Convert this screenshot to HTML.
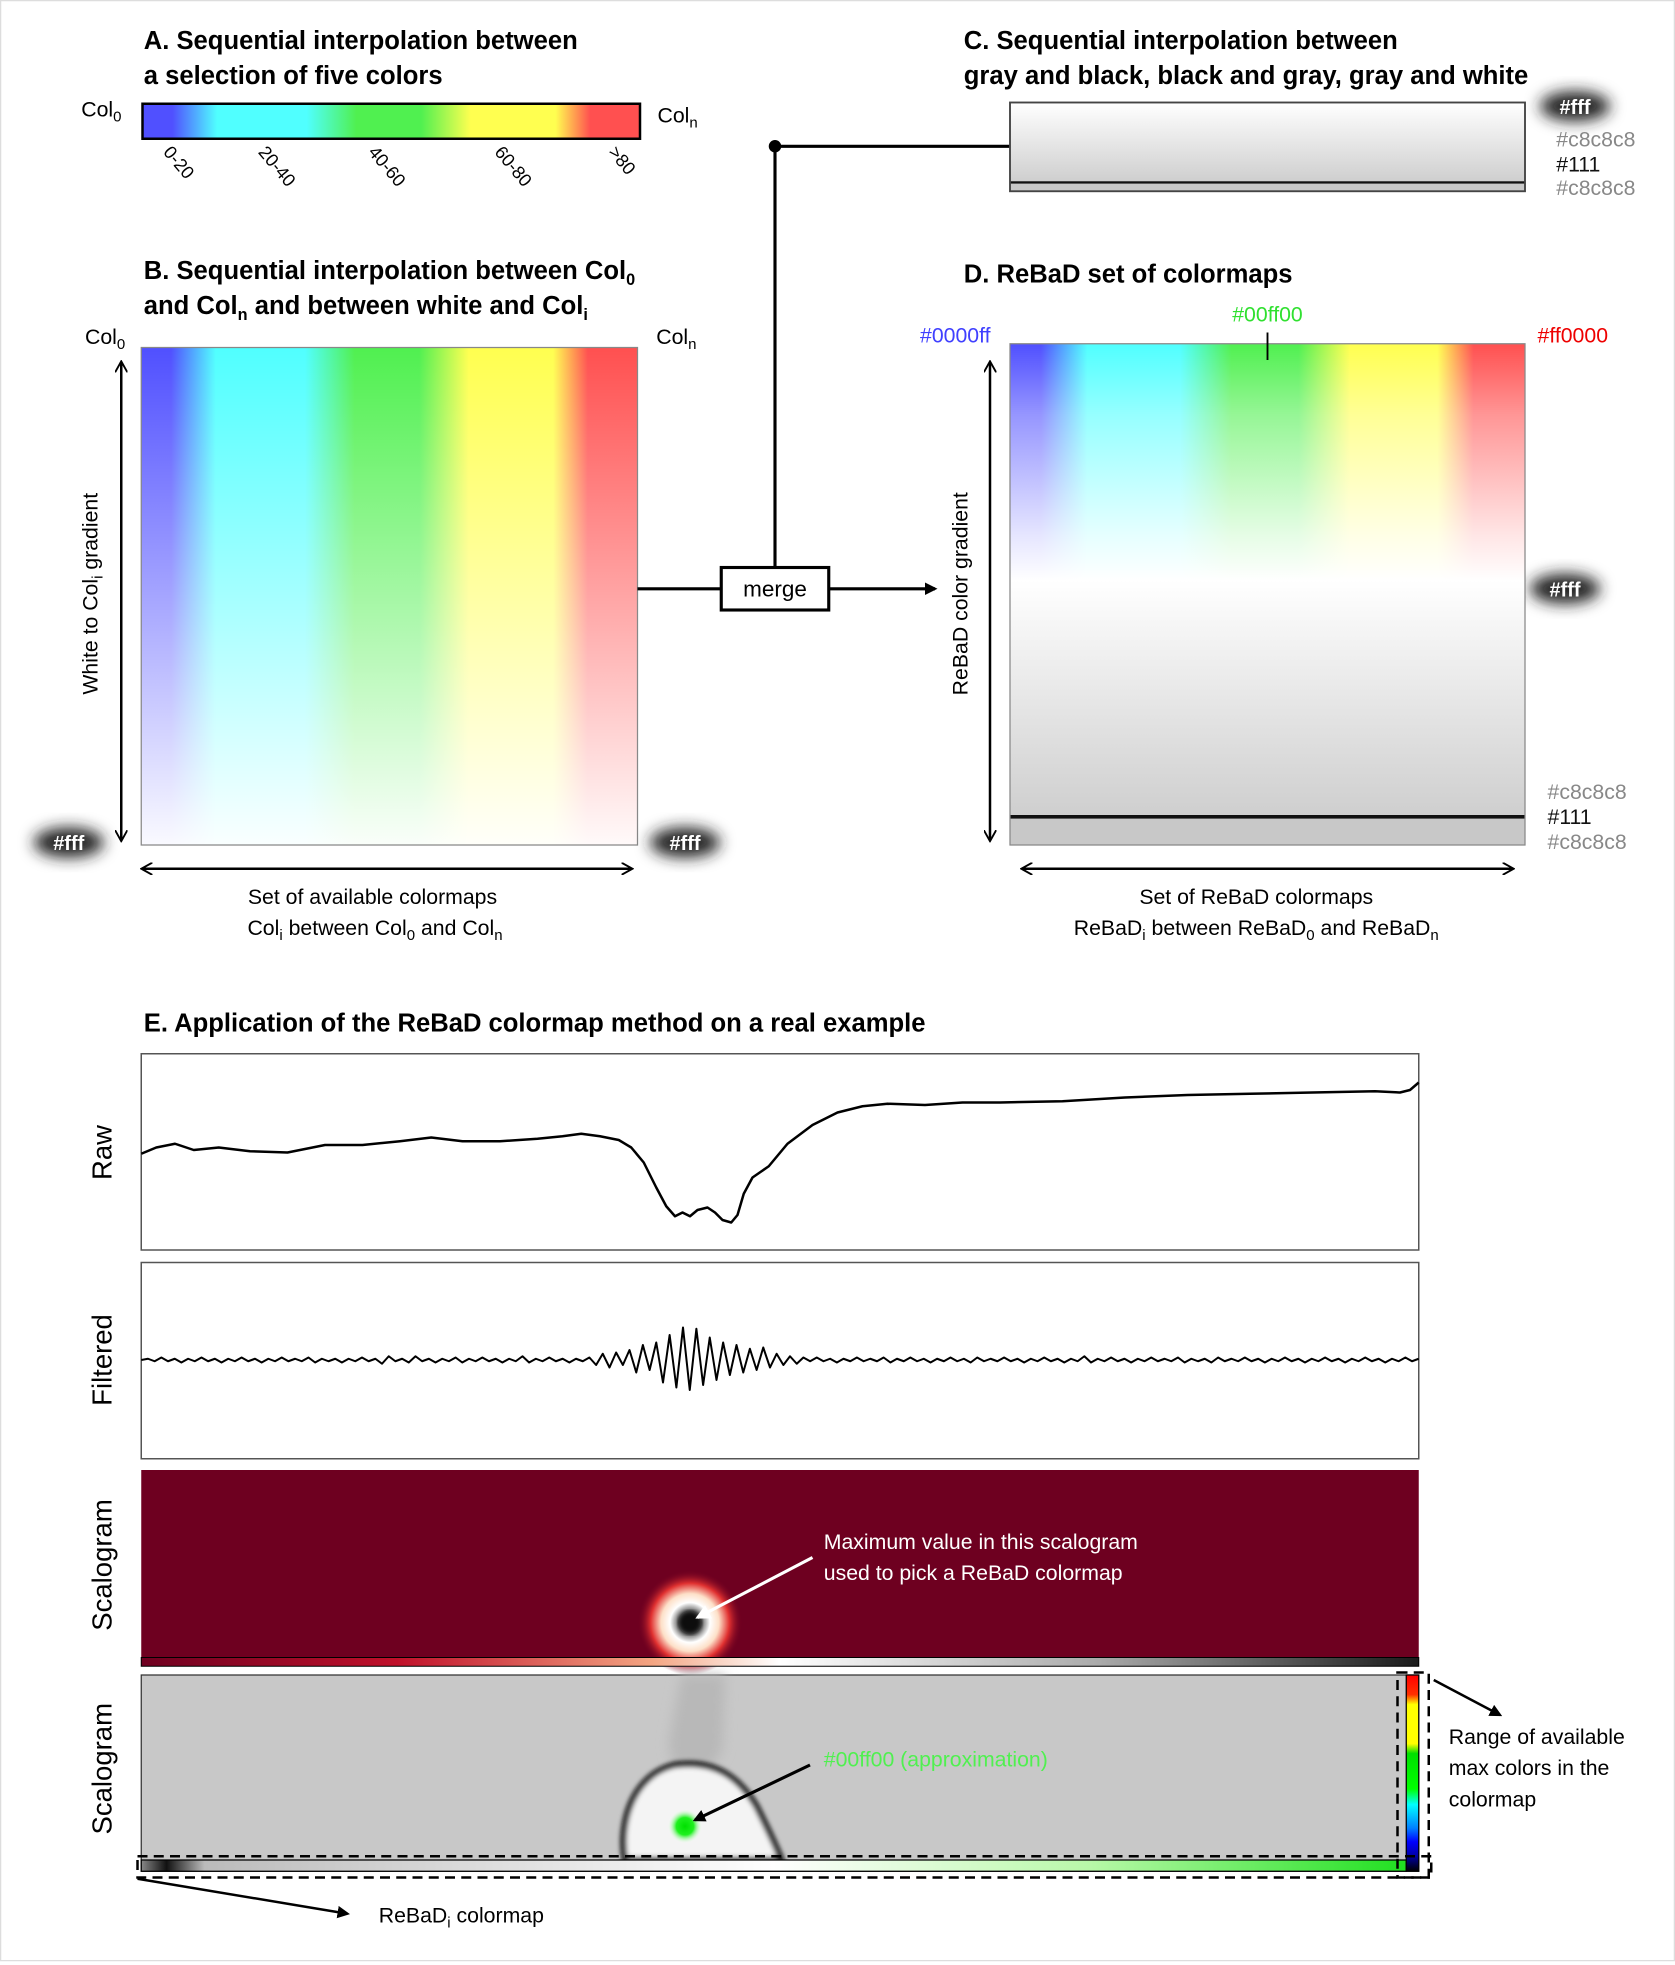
<!DOCTYPE html>
<html><head><meta charset="utf-8"><style>
html,body{margin:0;padding:0;background:#fff;}
svg{display:block;font-family:"Liberation Sans",sans-serif;}
</style></head><body>
<svg id="fig" width="1675" height="1965" viewBox="0 0 1340 1572" xmlns="http://www.w3.org/2000/svg">
<defs>
<linearGradient id="rainbow" x1="0" x2="1" y1="0" y2="0">
<stop offset="0" stop-color="#5050ff"/><stop offset="0.06" stop-color="#5050ff"/>
<stop offset="0.15" stop-color="#50ffff"/><stop offset="0.33" stop-color="#50ffff"/>
<stop offset="0.43" stop-color="#50f050"/><stop offset="0.56" stop-color="#50f050"/>
<stop offset="0.66" stop-color="#ffff50"/><stop offset="0.83" stop-color="#ffff50"/>
<stop offset="0.9" stop-color="#ff5050"/><stop offset="1" stop-color="#ff5050"/>
</linearGradient>
<linearGradient id="fadeB" x1="0" x2="0" y1="0" y2="1">
<stop offset="0" stop-color="#fff" stop-opacity="0"/><stop offset="1" stop-color="#fff" stop-opacity="0.97"/>
</linearGradient>
<linearGradient id="fadeD" x1="0" x2="0" y1="0" y2="1">
<stop offset="0" stop-color="#fff" stop-opacity="0"/><stop offset="0.3" stop-color="#fff" stop-opacity="0.4"/><stop offset="0.8" stop-color="#fff" stop-opacity="0.85"/><stop offset="1" stop-color="#fff" stop-opacity="1"/>
</linearGradient>
<linearGradient id="grayV" x1="0" x2="0" y1="0" y2="1">
<stop offset="0" stop-color="#fff"/><stop offset="1" stop-color="#cfcfcf"/>
</linearGradient>
<linearGradient id="strip1" x1="0" x2="1" y1="0" y2="0">
<stop offset="0" stop-color="#6e0020"/><stop offset="0.2" stop-color="#c0102a"/><stop offset="0.4" stop-color="#f4a582"/><stop offset="0.5" stop-color="#fff"/><stop offset="0.75" stop-color="#aaa"/><stop offset="1" stop-color="#1a1a1a"/>
</linearGradient>
<linearGradient id="strip2" x1="0" x2="1" y1="0" y2="0">
<stop offset="0" stop-color="#888"/><stop offset="0.02" stop-color="#111"/><stop offset="0.05" stop-color="#bbb"/><stop offset="0.5" stop-color="#fff"/><stop offset="0.75" stop-color="#b8f8a8"/><stop offset="1" stop-color="#20e020"/>
</linearGradient>
<linearGradient id="vbar" x1="0" x2="0" y1="0" y2="1">
<stop offset="0" stop-color="#ff0000"/><stop offset="0.1" stop-color="#ff3000"/><stop offset="0.15" stop-color="#ffff00"/><stop offset="0.35" stop-color="#ffff00"/><stop offset="0.4" stop-color="#00e000"/><stop offset="0.58" stop-color="#00ff00"/><stop offset="0.66" stop-color="#00ffff"/><stop offset="0.78" stop-color="#0080ff"/><stop offset="0.85" stop-color="#0000ff"/><stop offset="0.92" stop-color="#0000aa"/><stop offset="1" stop-color="#000"/>
</linearGradient>
<radialGradient id="halo">
<stop offset="0" stop-color="#222"/><stop offset="0.2" stop-color="#555"/><stop offset="0.38" stop-color="#fff"/><stop offset="0.55" stop-color="#fde0c8"/><stop offset="0.75" stop-color="#e03030"/><stop offset="1" stop-color="#6e0020" stop-opacity="0"/>
</radialGradient>
<radialGradient id="gdot">
<stop offset="0" stop-color="#00e000"/><stop offset="0.5" stop-color="#20f020"/><stop offset="1" stop-color="#fff" stop-opacity="0"/>
</radialGradient>
<filter id="blur6" x="-50%" y="-50%" width="200%" height="200%"><feGaussianBlur stdDeviation="6"/></filter>
<filter id="blur2"><feGaussianBlur stdDeviation="2"/></filter>
<filter id="blur4" x="-50%" y="-50%" width="200%" height="200%"><feGaussianBlur stdDeviation="5"/></filter>
<marker id="arr" markerWidth="10" markerHeight="10" refX="8" refY="5" orient="auto" markerUnits="userSpaceOnUse"><path d="M0,0 L10,5 L0,10 z" fill="#000"/></marker>
<marker id="arrw" markerWidth="12" markerHeight="12" refX="10" refY="6" orient="auto" markerUnits="userSpaceOnUse"><path d="M0,0 L12,6 L0,12 z" fill="#fff"/></marker>
<marker id="arrS" markerWidth="10" markerHeight="10" refX="8" refY="5" orient="auto-start-reverse" markerUnits="userSpaceOnUse"><path d="M0,0 L9,5 L0,10" fill="none" stroke="#000" stroke-width="1.5"/></marker>
</defs>
<rect x="0.5" y="0.5" width="1339" height="1568" fill="#fff" stroke="#ddd"/>

<!-- Panel A -->
<g font-weight="bold" font-size="20.5" fill="#000">
<text x="115" y="39">A. Sequential interpolation between</text>
<text x="115" y="67">a selection of five colors</text>
</g>
<rect x="114" y="83" width="398" height="28" fill="url(#rainbow)" stroke="#000" stroke-width="2"/>
<text x="65" y="93" font-size="17">Col<tspan font-size="12" dy="4">0</tspan></text>
<text x="526" y="98" font-size="17">Col<tspan font-size="12" dy="4">n</tspan></text>
<g font-size="14.5">
<text transform="translate(130,122) rotate(50)">0-20</text>
<text transform="translate(206,122) rotate(50)">20-40</text>
<text transform="translate(294,122) rotate(50)">40-60</text>
<text transform="translate(395,122) rotate(50)">60-80</text>
<text transform="translate(486,122) rotate(50)">&gt;80</text>
</g>

<!-- Panel B -->
<g font-weight="bold" font-size="20.5">
<text x="115" y="223">B. Sequential interpolation between Col<tspan font-size="13" dy="5">0</tspan></text>
<text x="115" y="251">and Col<tspan font-size="13" dy="5">n</tspan><tspan dy="-5"> and between white and Col</tspan><tspan font-size="13" dy="5">i</tspan></text>
</g>
<g>
<rect x="113" y="278" width="397" height="398" fill="url(#rainbow)"/>
<rect x="113" y="278" width="397" height="398" fill="url(#fadeB)" stroke="#888" stroke-width="1"/>
</g>
<text x="68" y="275" font-size="17">Col<tspan font-size="12" dy="4">0</tspan></text>
<text x="525" y="275" font-size="17">Col<tspan font-size="12" dy="4">n</tspan></text>
<line x1="97" y1="290" x2="97" y2="672" stroke="#000" stroke-width="2" marker-start="url(#arrS)" marker-end="url(#arrS)"/>
<text transform="translate(78,475) rotate(-90)" text-anchor="middle" font-size="17">White to Col<tspan font-size="12" dy="4">i</tspan><tspan dy="-4"> gradient</tspan></text>
<line x1="114" y1="695" x2="505" y2="695" stroke="#000" stroke-width="2" marker-start="url(#arrS)" marker-end="url(#arrS)"/>
<g font-size="17" text-anchor="middle">
<text x="298" y="723">Set of available colormaps</text>
<text x="300" y="748">Col<tspan font-size="12" dy="4">i</tspan><tspan dy="-4"> between Col</tspan><tspan font-size="12" dy="4">0</tspan><tspan dy="-4"> and Col</tspan><tspan font-size="12" dy="4">n</tspan></text>
</g>

<!-- white label blobs -->
<g><ellipse cx="55" cy="674" rx="28" ry="12" fill="#222" filter="url(#blur6)"/><text x="55" y="680" text-anchor="middle" fill="#fff" font-size="16" font-weight="bold">#fff</text></g>
<g><ellipse cx="548" cy="674" rx="28" ry="12" fill="#222" filter="url(#blur6)"/><text x="548" y="680" text-anchor="middle" fill="#fff" font-size="16" font-weight="bold">#fff</text></g>
<g><ellipse cx="1260" cy="85" rx="28" ry="12" fill="#222" filter="url(#blur6)"/><text x="1260" y="91" text-anchor="middle" fill="#fff" font-size="16" font-weight="bold">#fff</text></g>
<g><ellipse cx="1252" cy="471" rx="28" ry="12" fill="#222" filter="url(#blur6)"/><text x="1252" y="477" text-anchor="middle" fill="#fff" font-size="16" font-weight="bold">#fff</text></g>

<!-- merge connectors -->
<line x1="510" y1="471" x2="577" y2="471" stroke="#000" stroke-width="2.5"/>
<rect x="577" y="454" width="86" height="34" fill="#fff" stroke="#000" stroke-width="2.5"/>
<text x="620" y="477" text-anchor="middle" font-size="18">merge</text>
<line x1="663" y1="471" x2="748" y2="471" stroke="#000" stroke-width="2.5" marker-end="url(#arr)"/>
<polyline points="620,454 620,117 808,117" fill="none" stroke="#000" stroke-width="2.5"/>
<circle cx="620" cy="117" r="5" fill="#000"/>

<!-- Panel C -->
<g font-weight="bold" font-size="20.5">
<text x="771" y="39">C. Sequential interpolation between</text>
<text x="771" y="67">gray and black, black and gray, gray and white</text>
</g>
<g>
<rect x="808" y="82" width="412" height="63" fill="url(#grayV)"/>
<rect x="808" y="145" width="412" height="2" fill="#111"/>
<rect x="808" y="147" width="412" height="6" fill="#c8c8c8"/>
<rect x="808" y="82" width="412" height="71" fill="none" stroke="#444" stroke-width="1.5"/>
</g>
<g font-size="17">
<text x="1245" y="117" fill="#888">#c8c8c8</text>
<text x="1245" y="137" fill="#111">#111</text>
<text x="1245" y="156" fill="#888">#c8c8c8</text>
</g>

<!-- Panel D -->
<text x="771" y="226" font-weight="bold" font-size="20.5">D. ReBaD set of colormaps</text>
<g>
<rect x="808" y="275" width="412" height="190" fill="url(#rainbow)"/>
<rect x="808" y="275" width="412" height="190" fill="url(#fadeD)"/>
<rect x="808" y="464" width="412" height="188" fill="url(#grayV)"/>
<rect x="808" y="652" width="412" height="3" fill="#111"/>
<rect x="808" y="655" width="412" height="21" fill="#c8c8c8"/>
<rect x="808" y="275" width="412" height="401" fill="none" stroke="#888" stroke-width="1"/>
</g>
<text x="736" y="274" font-size="17" fill="#4040ff">#0000ff</text>
<text x="1014" y="257" font-size="17" fill="#30e030" text-anchor="middle">#00ff00</text>
<line x1="1014" y1="266" x2="1014" y2="288" stroke="#000" stroke-width="1.5"/>
<text x="1230" y="274" font-size="17" fill="#ee0000">#ff0000</text>
<line x1="792" y1="290" x2="792" y2="672" stroke="#000" stroke-width="2" marker-start="url(#arrS)" marker-end="url(#arrS)"/>
<text transform="translate(774,475) rotate(-90)" text-anchor="middle" font-size="17">ReBaD color gradient</text>
<g font-size="17">
<text x="1238" y="639" fill="#888">#c8c8c8</text>
<text x="1238" y="659" fill="#111">#111</text>
<text x="1238" y="679" fill="#888">#c8c8c8</text>
</g>
<line x1="818" y1="695" x2="1210" y2="695" stroke="#000" stroke-width="2" marker-start="url(#arrS)" marker-end="url(#arrS)"/>
<g font-size="17" text-anchor="middle">
<text x="1005" y="723">Set of ReBaD colormaps</text>
<text x="1005" y="748">ReBaD<tspan font-size="12" dy="4">i</tspan><tspan dy="-4"> between ReBaD</tspan><tspan font-size="12" dy="4">0</tspan><tspan dy="-4"> and ReBaD</tspan><tspan font-size="12" dy="4">n</tspan></text>
</g>

<!-- Panel E -->
<text x="115" y="825" font-weight="bold" font-size="20.5">E. Application of the ReBaD colormap method on a real example</text>
<rect x="113" y="843" width="1022" height="157" fill="#fff" stroke="#555" stroke-width="1.2"/>
<rect x="113" y="1010" width="1022" height="157" fill="#fff" stroke="#555" stroke-width="1.2"/>
<g font-size="22" text-anchor="middle">
<text transform="translate(89,922) rotate(-90)">Raw</text>
<text transform="translate(89,1088) rotate(-90)">Filtered</text>
<text transform="translate(89,1252) rotate(-90)">Scalogram</text>
<text transform="translate(89,1415) rotate(-90)">Scalogram</text>
</g>
<g id="raw-g"></g>
<g id="filt-g"></g>

<!-- Scalogram 1 -->
<g>
<rect x="113" y="1176" width="1022" height="150" fill="#6e0020"/>
<circle cx="552" cy="1298" r="42" fill="url(#halo)"/>
<circle cx="552" cy="1298" r="9" fill="#111" filter="url(#blur2)"/>
<rect x="113" y="1326" width="1022" height="7" fill="url(#strip1)" stroke="#000" stroke-width="0.8"/>
</g>
<g font-size="17" fill="#fff">
<text x="659" y="1239">Maximum value in this scalogram</text>
<text x="659" y="1264">used to pick a ReBaD colormap</text>
</g>
<line x1="650" y1="1246" x2="558" y2="1294" stroke="#fff" stroke-width="2.5" marker-end="url(#arrw)"/>

<!-- Scalogram 2 -->
<g>
<rect x="113" y="1340" width="1022" height="157" fill="#c8c8c8" stroke="#333" stroke-width="1"/>
<path d="M545,1340 L580,1340 L578,1400 L565,1420 L540,1418 L535,1395 Z" fill="#b8b8b8" filter="url(#blur4)"/>
<path d="M500,1488 C495,1460 505,1420 540,1412 C570,1408 590,1420 605,1445 C615,1465 622,1480 625,1488 Z" fill="#f4f4f4" stroke="#111" stroke-width="5" filter="url(#blur2)"/>
<circle cx="548" cy="1461" r="14" fill="url(#gdot)"/>
<rect x="113" y="1488" width="1012" height="9" fill="url(#strip2)" stroke="#000" stroke-width="1"/>
<rect x="1125" y="1340" width="10" height="157" fill="url(#vbar)" stroke="#000" stroke-width="1"/>
</g>
<text x="659" y="1413" font-size="17" fill="#50f050">#00ff00 (approximation)</text>
<line x1="648" y1="1412" x2="556" y2="1456" stroke="#000" stroke-width="2.5" marker-end="url(#arr)"/>
<rect x="110" y="1485" width="1035" height="17" fill="none" stroke="#000" stroke-width="2" stroke-dasharray="8,5"/>
<rect x="1118" y="1338" width="25" height="164" fill="none" stroke="#000" stroke-width="2" stroke-dasharray="8,5"/>
<line x1="1147" y1="1344" x2="1200" y2="1372" stroke="#000" stroke-width="2" marker-end="url(#arr)"/>
<g font-size="17">
<text x="1159" y="1395">Range of available</text>
<text x="1159" y="1420">max colors in the</text>
<text x="1159" y="1445">colormap</text>
</g>
<line x1="110" y1="1503" x2="278" y2="1531" stroke="#000" stroke-width="2" marker-end="url(#arr)"/>
<text x="303" y="1538" font-size="17">ReBaD<tspan font-size="12" dy="4">i</tspan><tspan dy="-4"> colormap</tspan></text>
</svg>
<script>
// Raw trace: x position (px from panel left), value = height above panel bottom
var rawPos = [0,12,27,42,62,87,117,147,177,207,232,257,287,317,337,352,367,382,392,402,412,420,427,433,439,445,453,459,465,472,477,482,489,502,517,537,557,577,597,627,657,687,737,787,837,887,937,987,1007,1015,1022];
var rawVal = [77,82,85,80,82,79,78,84,84,87,90,87,87,89,91,93,91,88,82,70,50,35,27,30,27,32,34,30,24,22,28,45,58,67,85,100,110,115,117,116,118,118,119,122,124,125,126,127,126,128,134];
// Filtered trace: amplitude per sample
var filtVal = [0,1,-1,2,-1,1,-2,1,-1,2,-1,1,-2,1,-1,2,
-1,1,-2,1,-1,2,-1,1,-1,2,-2,1,-1,1,-2,1,
-1,2,-1,1,-3,3,-1,1,-2,3,-1,1,-2,1,-1,2,
-2,1,-1,2,-1,1,-2,1,-1,3,-2,1,-1,2,-1,1,
-2,1,-1,2,
-4,5,-6,6,-4,8,-10,12,-8,14,-18,20,-22,26,-24,25,
-20,18,-16,14,-12,12,-10,9,-8,10,-6,5,-4,3,-3,2,
-1,2,-1,1,-2,1,-1,2,-1,1,-1,2,-2,1,-1,2,
-1,1,-2,1,-1,2,-1,1,-2,2,-1,1,-1,2,-1,1,
-2,1,-1,2,-1,1,-2,1,-1,3,-2,1,-1,2,-1,1,
-2,1,-1,2,-1,1,-1,2,-2,1,-1,1,-2,2,-1,1,
-1,2,-1,1,-2,1,-1,2,-1,1,-2,1,-1,2,-1,1,
-2,1,-1,2,-1,1,-2,1,-1,2,-1,1];

var NS='http://www.w3.org/2000/svg';
function xRaw(v){return 113+v;}
function yRaw(v){return 1000-v;}
function xFilt(i){return 113+i*1022/(filtVal.length-1);}
function yFilt(v){return 1088-v;}

var d='';
for(var i=0;i<rawPos.length;i++){d+=(i?'L':'M')+xRaw(rawPos[i]).toFixed(1)+','+yRaw(rawVal[i]).toFixed(1);}
var p=document.createElementNS(NS,'path');
p.setAttribute('d',d);p.setAttribute('fill','none');p.setAttribute('stroke','#000');p.setAttribute('stroke-width','2');p.setAttribute('stroke-linejoin','round');


document.getElementById('raw-g').appendChild(p);

var d2='';
for(var j=0;j<filtVal.length;j++){d2+=(j?'L':'M')+xFilt(j).toFixed(1)+','+yFilt(filtVal[j]).toFixed(1);}
var q=document.createElementNS(NS,'path');
q.setAttribute('d',d2);q.setAttribute('fill','none');q.setAttribute('stroke','#000');q.setAttribute('stroke-width','1.6');q.setAttribute('stroke-linejoin','round');


document.getElementById('filt-g').appendChild(q);
</script>
</body></html>
